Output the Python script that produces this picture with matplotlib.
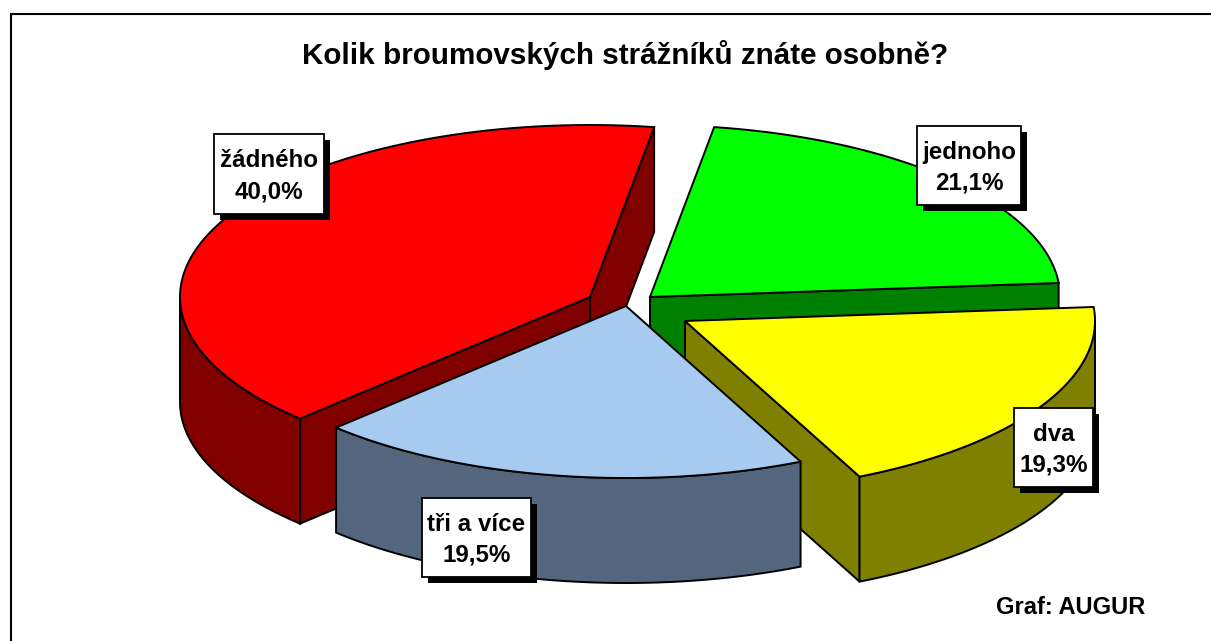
import numpy as np
import matplotlib
matplotlib.use("Agg")
import matplotlib.pyplot as plt
from matplotlib.patches import Polygon, Rectangle

plt.rcParams['font.family'] = ['Liberation Sans', 'DejaVu Sans']

# Data, in order round the pie (counter-clockwise from the start angle)
categories = ['žádného', 'tři a více', 'dva', 'jednoho']
values = [40.0, 19.5, 19.3, 21.1]
value_labels = ['40,0%', '19,5%', '19,3%', '21,1%']
title_text = 'Kolik broumovských strážníků znáte osobně?'
credit_text = 'Graf: AUGUR'

# Style
top_colors = ['#ff0000', '#a6caf0', '#ffff00', '#00ff00']
side_colors = ['#800000', '#53667e', '#808000', '#008000']

# Layout, all in image pixels
W, H = 1211, 641
RX, RY = 410, 172
DEPTH = 105
START = 81.0
apexes = [(590, 297), (626, 306), (685, 321), (650, 297)]
label_boxes = [(214, 134, 110, 80), (422, 498, 109, 79), (1014, 408, 79, 79), (917, 126, 104, 79)]
draw_order = [3, 0, 2, 1]


def rim(apex, a0, a1):
    t = np.radians(np.linspace(a0, a1, 200))
    return np.column_stack([apex[0] + RX*np.cos(t), apex[1] - RY*np.sin(t)])


def add_poly(ax, pts, color):
    ax.add_patch(Polygon(pts, closed=True, facecolor=color, edgecolor='black', lw=1.4, joinstyle='miter'))


def draw_slice(ax, i, a0, a1):
    apex = np.array(apexes[i], dtype=float)
    # flat cut faces, only the ones turned towards the viewer
    for a, normal in ((a0, a0 - 90), (a1, a1 + 90)):
        if np.sin(np.radians(normal)) < 0:
            p = rim(apex, a, a)[0]
            add_poly(ax, [apex, p, p + [0, DEPTH], apex + [0, DEPTH]], side_colors[i])
    # outer wall, the part on the near half of the rim
    lo, hi = max(a0, 180), min(a1, 360)
    if hi > lo:
        outer = rim(apex, lo, hi)
        add_poly(ax, np.vstack([outer, outer[::-1] + [0, DEPTH]]), side_colors[i])
    add_poly(ax, np.vstack([[apex], rim(apex, a0, a1)]), top_colors[i])


fig = plt.figure(figsize=(W/100, H/100), dpi=100)
ax = fig.add_axes([0, 0, 1, 1])
ax.set_xlim(0, W)
ax.set_ylim(H, 0)
ax.axis('off')

# frame only shows on the top and left, it runs off the image
ax.plot([11, 11, W], [H, 14, 14], color='black', lw=1.5, solid_joinstyle='miter')

spans = 3.6*np.array(values)
spans[-1] += 360 - spans.sum()  # labels add up to 99.9, last slice closes the circle
starts = START + np.concatenate([[0], np.cumsum(spans)[:-1]])
for i in draw_order:
    draw_slice(ax, i, starts[i], starts[i] + spans[i])

for i, (x, y, w, h) in enumerate(label_boxes):
    ax.add_patch(Rectangle((x + 6, y + 6), w, h, facecolor='black', edgecolor='black', lw=0))
    ax.add_patch(Rectangle((x, y), w, h, facecolor='white', edgecolor='black', lw=1.3))
    ax.text(x + w/2, y + h*0.33, categories[i], ha='center', va='center',
            fontsize=17.4, fontweight='bold')
    ax.text(x + w/2, y + h*0.72, value_labels[i], ha='center', va='center',
            fontsize=17.4, fontweight='bold')

ax.text(625, 55, title_text, ha='center', va='center', fontsize=21.3, fontweight='bold')
ax.text(1071, 608, credit_text, ha='center', va='center', fontsize=17, fontweight='bold')

fig.savefig('out.png', dpi=100)
